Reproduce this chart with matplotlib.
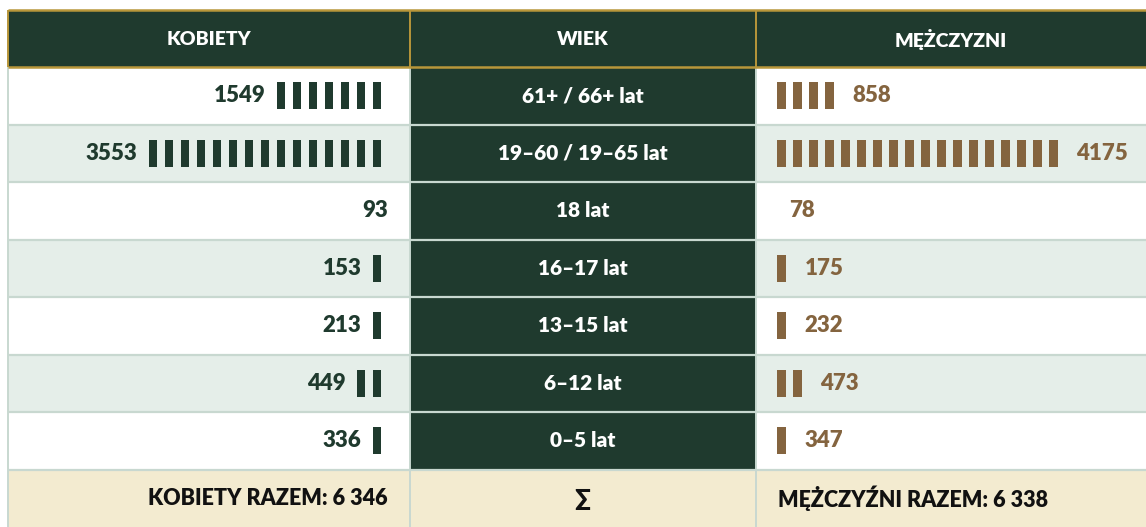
import matplotlib
matplotlib.use("Agg")
import matplotlib.pyplot as plt
from matplotlib.patches import Rectangle

# ---------------- data ----------------
age_groups = ["61+ / 66+ lat", "19–60 / 19–65 lat", "18 lat", "16–17 lat",
              "13–15 lat", "6–12 lat", "0–5 lat"]
women = [1549, 3553, 93, 153, 213, 449, 336]
men = [858, 4175, 78, 175, 232, 473, 347]
headers = ["KOBIETY", "WIEK", "MĘŻCZYZNI"]
total_women_label = "KOBIETY RAZEM: 6 346"
total_men_label = "MĘŻCZYŹNI RAZEM: 6 338"
total_mid_label = "∑"
UNIT = 235  # one bar glyph per ~235 persons

# ---------------- style ----------------
DARK = "#1f3a2e"
GOLD = "#b8963a"
BROWN = "#84643f"
LIGHT = "#e5eee9"
SEP = "#c8d8d0"
CREAM = "#f3ebd0"
FONT = ["Lato", "DejaVu Sans"]
WT = "heavy"

W, H = 1146, 527
fig = plt.figure(figsize=(W / 100, H / 100), dpi=100)
ax = fig.add_axes([0, 0, 1, 1])
ax.set_xlim(0, W)
ax.set_ylim(H, 0)
ax.axis("off")

x0, x1, x2, x3 = 8, 410, 755.5, W
head_top, head_bot = 10, 67
row_h = 57.5
n = len(age_groups)
rows_top = [head_bot + i * row_h for i in range(n)]
total_top = head_bot + n * row_h

# header
ax.add_patch(Rectangle((x0, head_top), x3 - x0, head_bot - head_top,
                       facecolor=DARK, edgecolor="none", zorder=1))
for i, (a, b) in enumerate([(x0, x1), (x1, x2), (x2, x3)]):
    ax.text((a + b) / 2, (head_top + head_bot) / 2 + 1, headers[i], color="white",
            fontsize=14, fontweight=WT, family=FONT, ha="center", va="center", zorder=5)

# body rows
for i in range(n):
    top = rows_top[i]
    bg = "white" if i % 2 == 0 else LIGHT
    ax.add_patch(Rectangle((x0, top), x1 - x0, row_h, facecolor=bg, edgecolor="none", zorder=1))
    ax.add_patch(Rectangle((x2, top), x3 - x2, row_h, facecolor=bg, edgecolor="none", zorder=1))
    ax.add_patch(Rectangle((x1, top), x2 - x1, row_h, facecolor=DARK, edgecolor="none", zorder=1))
    cy = top + row_h / 2

    # middle label
    ax.text((x1 + x2) / 2, cy, age_groups[i], color="white", fontsize=15,
            fontweight=WT, family=FONT, ha="center", va="center", zorder=5)

    # women bars (right aligned)
    bw, step, bh = 8.5, 16, 27
    nw = int(round(women[i] / UNIT))
    right = 381
    xs = [right - bw - k * step for k in range(nw)]
    if nw:
        ax.bar(xs, [bh] * nw, width=bw, bottom=cy - bh / 2, align="edge",
               color=DARK, edgecolor="none", zorder=3)
        tx = min(xs) - 11
    else:
        tx = 388
    ax.text(tx, cy, f"{women[i]}", color=DARK, fontsize=16, fontweight=WT,
            family=FONT, ha="right", va="center", zorder=5)

    # men bars (left aligned)
    nm = int(round(men[i] / UNIT))
    left = 777
    xs = [left + k * step for k in range(nm)]
    if nm:
        ax.bar(xs, [bh] * nm, width=bw, bottom=cy - bh / 2, align="edge",
               color=BROWN, edgecolor="none", zorder=3)
        tx = max(xs) + bw + 19
    else:
        tx = 789
    ax.text(tx, cy, f"{men[i]}", color=BROWN, fontsize=16, fontweight=WT,
            family=FONT, ha="left", va="center", zorder=5)

# total row
ax.add_patch(Rectangle((x0, total_top), x3 - x0, H - total_top, facecolor=CREAM,
                       edgecolor="none", zorder=1))
tcy = total_top + (H - total_top) / 2
ax.text(388, tcy, total_women_label, color="#111111", fontsize=15.5, fontweight=WT,
        family=FONT, ha="right", va="center", zorder=5)
ax.text((x1 + x2) / 2, tcy + 1, total_mid_label, color="#111111", fontsize=17,
        fontweight=WT, family=FONT, ha="center", va="center", zorder=5)
ax.text(778, tcy, total_men_label, color="#111111", fontsize=15.5, fontweight=WT,
        family=FONT, ha="left", va="center", zorder=5)

# separators
for i in range(1, n + 1):
    y = head_bot + i * row_h
    ax.plot([x0, x3], [y, y], color=SEP, lw=1.6, zorder=2, solid_capstyle="butt")
for x in (x0, x1, x2):
    ax.plot([x, x], [head_bot, H], color=SEP, lw=1.4, zorder=2, solid_capstyle="butt")

# gold header lines
ax.plot([x0, x3], [head_top, head_top], color=GOLD, lw=1.8, zorder=4, solid_capstyle="butt")
ax.plot([x0, x3], [head_bot, head_bot], color=GOLD, lw=1.8, zorder=4, solid_capstyle="butt")
for x in (x0, x1, x2):
    ax.plot([x, x], [head_top, head_bot], color=GOLD, lw=1.4, zorder=4, solid_capstyle="butt")

fig.savefig("out.png", dpi=100, facecolor="white")
